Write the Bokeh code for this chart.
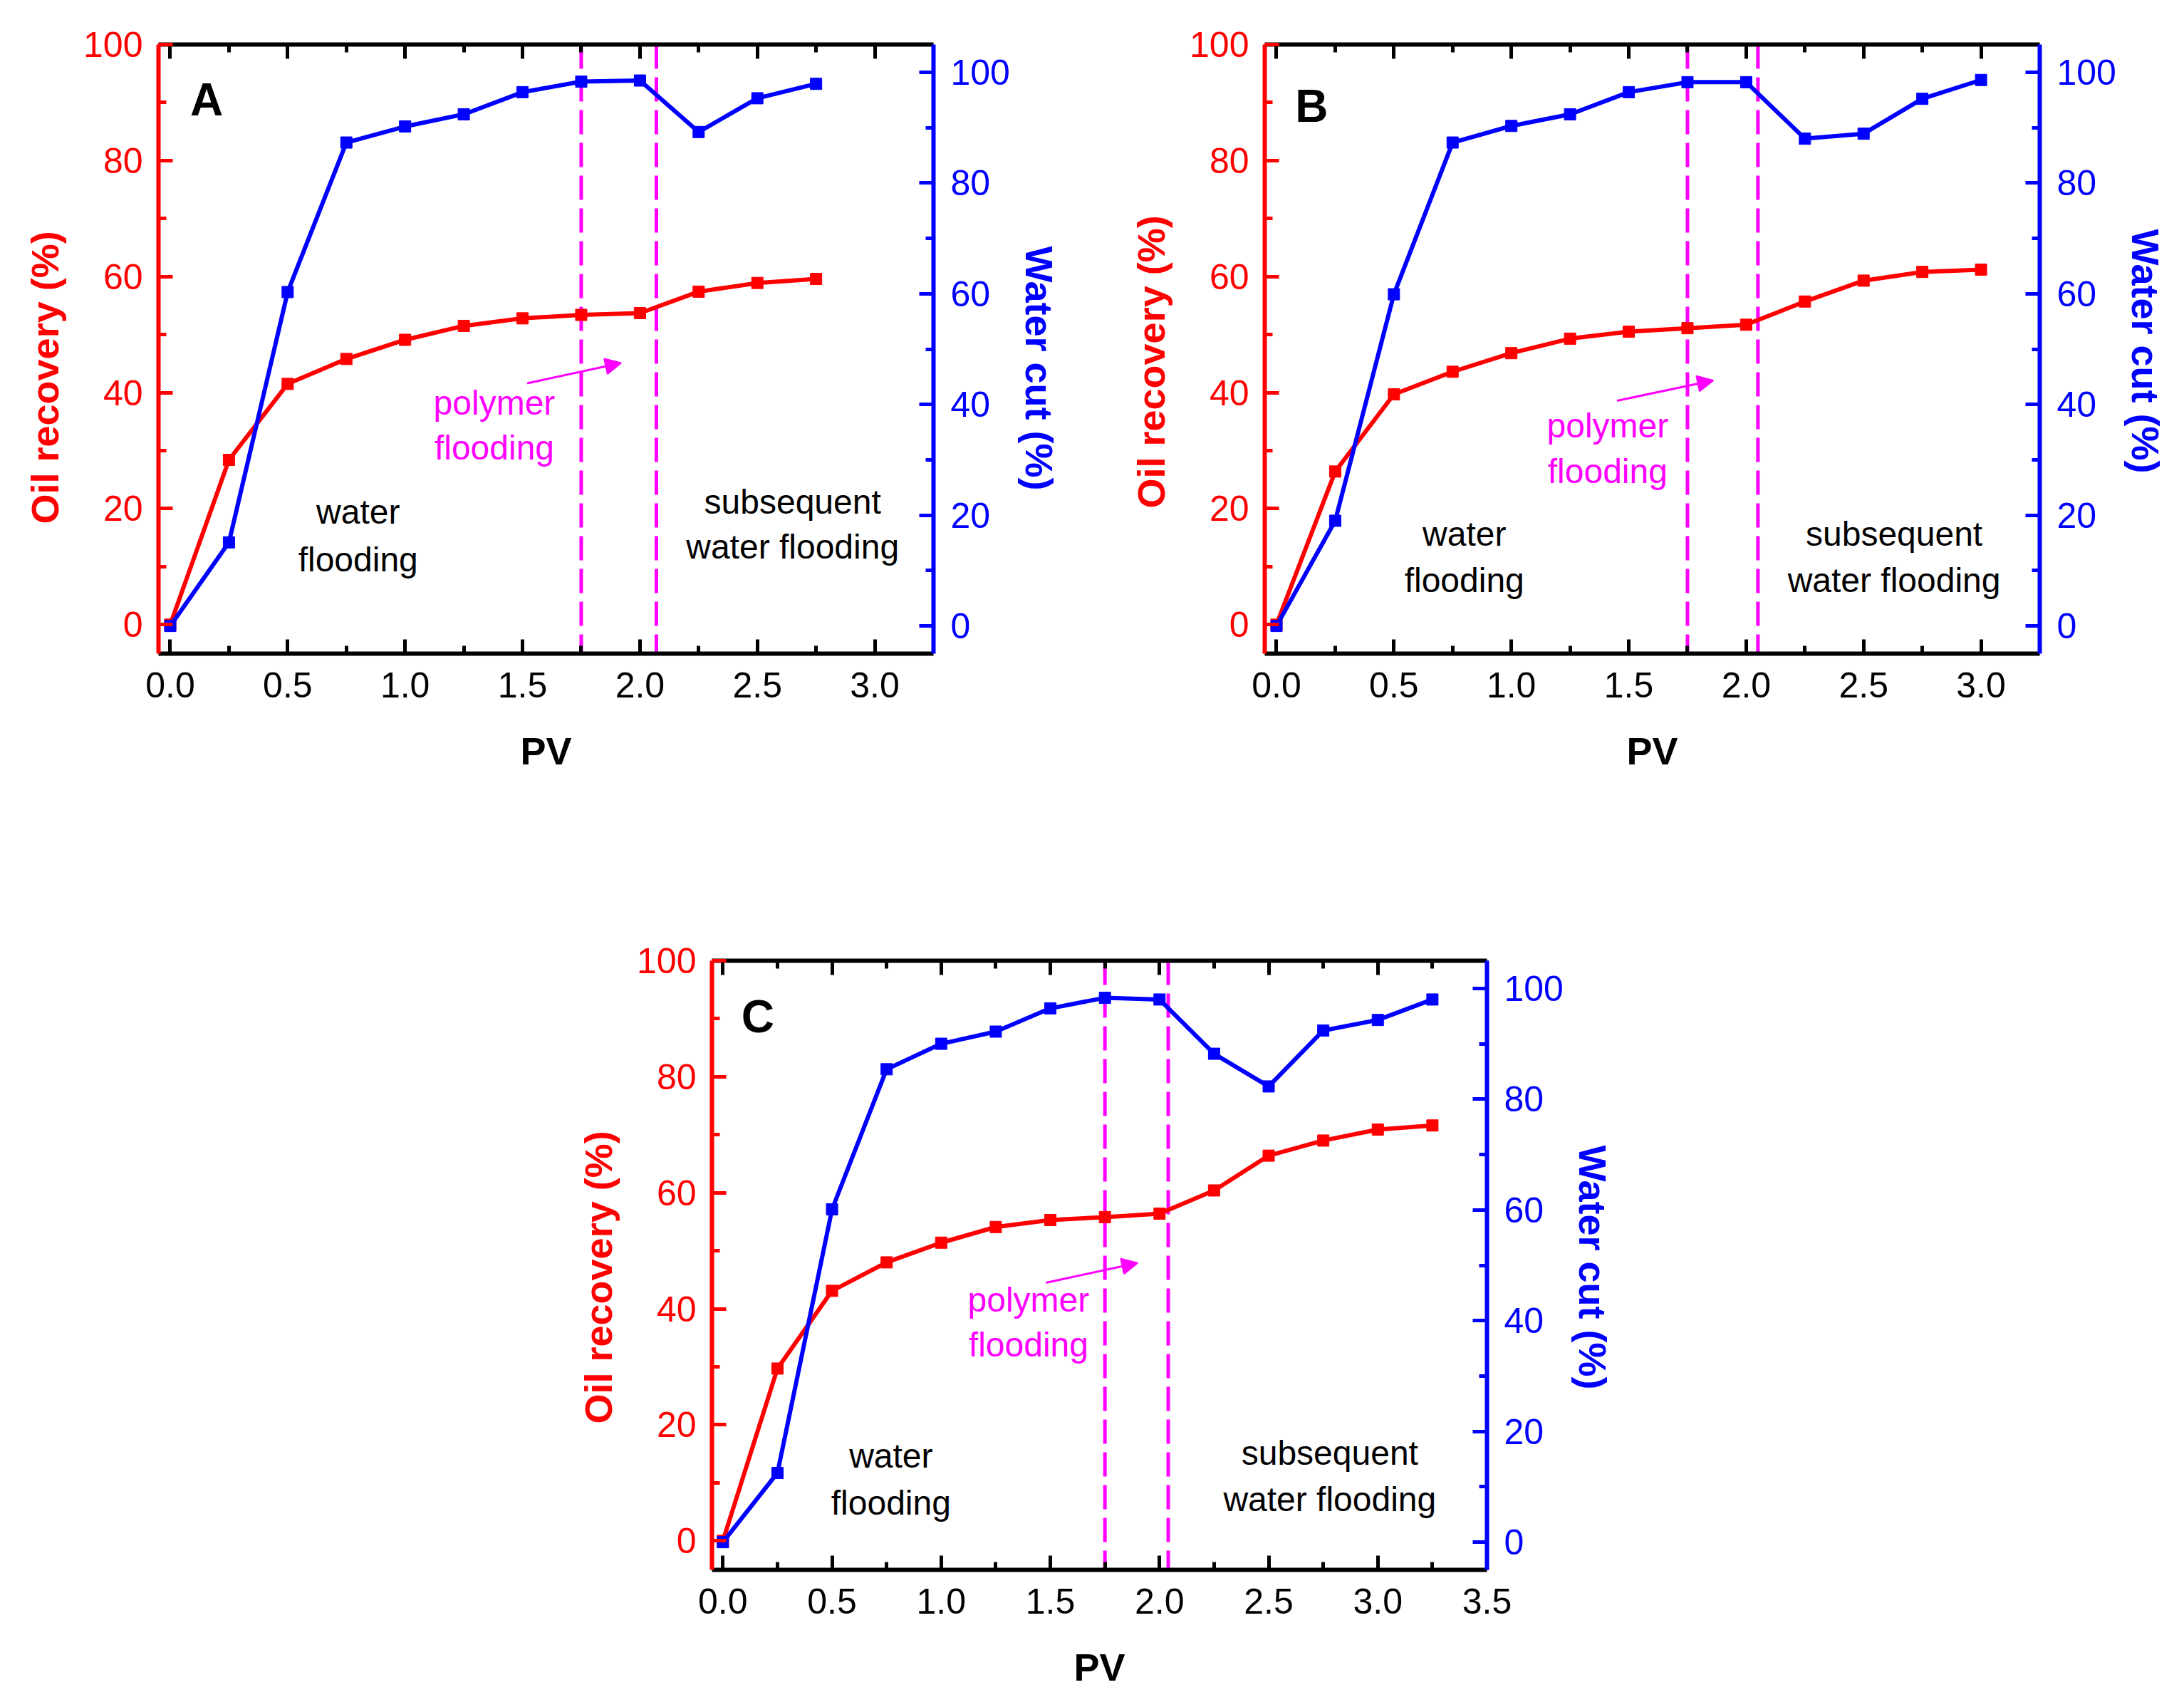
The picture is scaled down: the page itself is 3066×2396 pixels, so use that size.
from bokeh.plotting import figure
from bokeh.models import (Range1d, LinearAxis, FixedTicker, PrintfTickFormatter,
                          Span, Arrow, NormalHead, Spacer, Title)
from bokeh.layouts import row, column
from bokeh.core.properties import value
from bokeh.embed import file_html
from bokeh.resources import INLINE

# ---- data ----
pv_a = [0, 0.25, 0.5, 0.75, 1.0, 1.25, 1.5, 1.75, 2.0, 2.25, 2.5, 2.75]
oil_a = [0, 28.4, 41.5, 45.8, 49.1, 51.5, 52.8, 53.4, 53.7, 57.4, 58.9, 59.6]
wc_a = [0, 15.1, 60.3, 87.3, 90.2, 92.4, 96.4, 98.3, 98.5, 89.2, 95.3, 97.9]

pv_b = [0, 0.25, 0.5, 0.75, 1.0, 1.25, 1.5, 1.75, 2.0, 2.25, 2.5, 2.75, 3.0]
oil_b = [0, 26.4, 39.7, 43.6, 46.8, 49.3, 50.5, 51.1, 51.7, 55.7, 59.3, 60.8, 61.2]
wc_b = [0, 19.0, 59.9, 87.3, 90.3, 92.4, 96.4, 98.2, 98.2, 88.0, 88.9, 95.2, 98.6]

pv_c = [0, 0.25, 0.5, 0.75, 1.0, 1.25, 1.5, 1.75, 2.0, 2.25, 2.5, 2.75, 3.0, 3.25]
oil_c = [0, 29.7, 43.1, 48.0, 51.4, 54.1, 55.3, 55.8, 56.4, 60.4, 66.4, 69.0, 70.9, 71.6]
wc_c = [0, 12.5, 60.1, 85.4, 90.0, 92.2, 96.4, 98.3, 98.0, 88.2, 82.3, 92.4, 94.3, 98.0]

# polymer slug start / end (PV)
slug_a = [1.75, 2.07]
slug_b = [1.75, 2.05]
slug_c = [1.75, 2.04]

x_ticks_ab = [0.0, 0.5, 1.0, 1.5, 2.0, 2.5, 3.0]
x_ticks_c = [0.0, 0.5, 1.0, 1.5, 2.0, 2.5, 3.0, 3.5]
y_ticks = [0, 20, 40, 60, 80, 100]
y_minor = [10, 30, 50, 70, 90]

RED = "#ff0000"
BLUE = "#0000ff"
MAG = "#ff00ff"
FONT = "Liberation Sans"
FRAME_H = 855


def style(ax, color):
    ax.axis_line_color = color
    ax.axis_line_width = 6
    ax.major_tick_line_color = color
    ax.major_tick_line_width = 5
    ax.minor_tick_line_color = color
    ax.minor_tick_line_width = 5
    ax.major_tick_in = 20
    ax.major_tick_out = 0
    ax.minor_tick_in = 11
    ax.minor_tick_out = 0
    ax.major_label_text_color = color
    ax.major_label_text_font = FONT
    ax.major_label_text_font_size = "50px"
    ax.axis_label_text_color = color
    ax.axis_label_text_font = FONT
    ax.axis_label_text_font_style = "bold"
    ax.axis_label_text_font_size = "54px"


def side_title(text, color, offset, standoff):
    # anchored at the text start, then pushed along the axis by offset
    return Title(text=text, align="left", offset=offset, standoff=standoff,
                 text_font=FONT, text_font_size="54px", text_font_style="bold",
                 text_color=color)


def make_panel(letter, pv, oil, wc, x_max, x_ticks, slug, pos, borders):
    left, right, top, bottom = borders
    p = figure(frame_width=1088, frame_height=FRAME_H,
               x_range=Range1d(-0.05, x_max), y_range=Range1d(-5, 100),
               x_axis_location=None, y_axis_location=None,
               min_border_left=left, min_border_right=right,
               min_border_top=top, min_border_bottom=bottom,
               output_backend="svg", toolbar_location=None)
    p.extra_y_ranges = {"wc": Range1d(-5, 105)}
    p.grid.visible = False
    p.outline_line_color = None

    minor_x = [t + 0.25 for t in x_ticks if t + 0.25 < x_max]

    xb = LinearAxis(ticker=FixedTicker(ticks=x_ticks, minor_ticks=minor_x),
                    formatter=PrintfTickFormatter(format="%.1f"), axis_label="PV")
    style(xb, "black")
    xb.major_label_standoff = 26
    xb.axis_label_standoff = 42
    p.add_layout(xb, "below")

    xt = LinearAxis(ticker=FixedTicker(ticks=x_ticks, minor_ticks=minor_x),
                    major_label_overrides={t: "" for t in x_ticks})
    style(xt, "black")
    xt.major_label_text_font_size = "0px"
    xt.major_label_standoff = 0
    p.add_layout(xt, "above")

    yl = LinearAxis(ticker=FixedTicker(ticks=y_ticks, minor_ticks=y_minor))
    style(yl, RED)
    yl.major_label_standoff = 22
    p.add_layout(yl, "left")

    yr = LinearAxis(y_range_name="wc", ticker=FixedTicker(ticks=y_ticks, minor_ticks=y_minor))
    style(yr, BLUE)
    yr.major_label_standoff = 24
    p.add_layout(yr, "right")

    # axis titles sit a little below the frame centre in the original
    down_oil, down_wc = pos["titles"]
    oil_len, wc_len = 411, 345
    p.add_layout(side_title("Oil recovery (%)", RED,
                            FRAME_H / 2 - down_oil - oil_len / 2 - 5, 44), "left")
    p.add_layout(side_title("Water cut (%)", BLUE,
                            FRAME_H / 2 + down_wc - wc_len / 2 - 5, 16), "right")

    for s in slug:
        p.add_layout(Span(location=s, dimension="height", line_color=MAG,
                          line_width=5, line_dash="34 12", level="underlay"))

    p.line(pv, oil, line_color=RED, line_width=6)
    p.scatter(pv, oil, marker="square", size=16, color=RED)
    p.line(pv, wc, line_color=BLUE, line_width=6, y_range_name="wc")
    p.scatter(pv, wc, marker="square", size=16, color=BLUE, y_range_name="wc")

    lx, ly = pos["letter"]
    p.text(x=[lx], y=[ly], text=[letter], text_font=value(FONT),
           text_font_size=value("64px"), text_font_style="bold",
           text_color="black", text_align="center", text_baseline="middle")

    wx, wy1, wy2 = pos["water"]
    sx, sy1, sy2 = pos["subseq"]
    p.text(x=[wx, wx, sx, sx], y=[wy1, wy2, sy1, sy2],
           text=["water", "flooding", "subsequent", "water flooding"],
           text_font=value(FONT), text_font_size=value("48px"),
           text_color="black", text_align="center", text_baseline="middle")

    px, py1, py2 = pos["polymer"]
    p.text(x=[px, px], y=[py1, py2], text=["polymer", "flooding"],
           text_font=value(FONT), text_font_size=value("48px"),
           text_color=MAG, text_align="center", text_baseline="middle")

    ax0, ay0, ax1, ay1 = pos["arrow"]
    p.add_layout(Arrow(end=NormalHead(size=22, fill_color=MAG, line_color=MAG, line_width=2),
                       x_start=ax0, y_start=ay0, x_end=ax1, y_end=ay1,
                       line_color=MAG, line_width=3))
    return p


pA = make_panel("A", pv_a, oil_a, wc_a, 3.25, x_ticks_ab, slug_a,
                {"letter": (0.155, 90.5), "water": (0.80, 19.4, 11.2),
                 "subseq": (2.65, 21.1, 13.4), "polymer": (1.38, 38.2, 30.5),
                 "arrow": (1.52, 41.6, 1.92, 45.1), "titles": (35, 33)},
                (222, 225, 62, 200))
pB = make_panel("B", pv_b, oil_b, wc_b, 3.25, x_ticks_ab, slug_b,
                {"letter": (0.15, 89.4), "water": (0.80, 15.6, 7.6),
                 "subseq": (2.63, 15.6, 7.6), "polymer": (1.41, 34.3, 26.4),
                 "arrow": (1.45, 38.6, 1.86, 42.1), "titles": (13, 9)},
                (240, 195, 62, 200))
pC = make_panel("C", pv_c, oil_c, wc_c, 3.5, x_ticks_c, slug_c,
                {"letter": (0.16, 90.4), "water": (0.77, 14.6, 6.6),
                 "subseq": (2.78, 15.2, 7.1), "polymer": (1.40, 41.5, 33.8),
                 "arrow": (1.48, 44.5, 1.90, 47.9), "titles": (12, 9)},
                (214, 225, 231, 180))

layout = column(row(pA, pB), row(Spacer(width=785, height=10), pC))

open("out.html", "w").write(file_html(layout, INLINE))
